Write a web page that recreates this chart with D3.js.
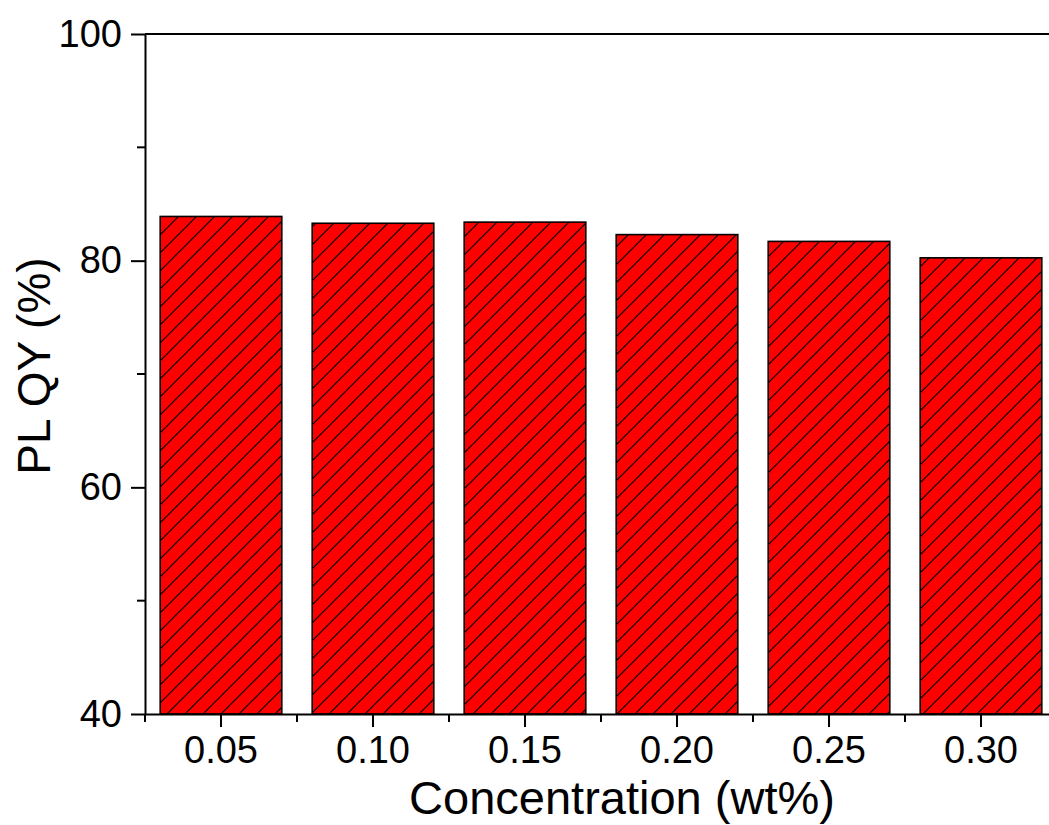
<!DOCTYPE html>
<html>
<head>
<meta charset="utf-8">
<script src="https://cdn.jsdelivr.net/npm/d3@7"></script>
<style>
  body { margin: 0; background: #fff; }
  svg { display: block; }
</style>
</head>
<body>
<script>
// Data
const CONC   = ['0.05', '0.10', '0.15', '0.20', '0.25', '0.30'];
const PLQY   = [83.9, 83.3, 83.4, 82.3, 81.7, 80.25];
const Y_TICKS = [40, 60, 80, 100];
const Y_MINOR = [50, 70, 90];

// Dimensions
const W = 1049, H = 825;
const margin = { top: 34, left: 145 };
const PLOT_W = 912;
const PLOT_H = 680;

const FONT = "'Liberation Sans', Arial, sans-serif";
const RED  = '#ff0000';
const FG   = '#000000';

// Scales
const x = d3.scaleBand()
  .domain(CONC)
  .range([0, PLOT_W])
  .paddingInner(0.2)
  .paddingOuter(0.1);

const y = d3.scaleLinear()
  .domain([40, 100])
  .range([PLOT_H, 0]);

// SVG
const svg = d3.select('body').append('svg')
  .attr('width', W)
  .attr('height', H);

svg.append('rect')
  .attr('width', W)
  .attr('height', H)
  .attr('fill', '#fff');

// hatch pattern
const hs = 18;
const defs = svg.append('defs');
const pat = defs.append('pattern')
  .attr('id', 'hatch')
  .attr('patternUnits', 'userSpaceOnUse')
  .attr('width', hs)
  .attr('height', hs);
pat.append('rect')
  .attr('width', hs)
  .attr('height', hs)
  .attr('fill', RED);
pat.append('path')
  .attr('d', `M-2,2 l4,-4 M0,${hs} l${hs},${-hs} M${hs - 2},${hs + 2} l4,-4`)
  .attr('stroke', FG)
  .attr('stroke-width', 1.2);

const g = svg.append('g')
  .attr('transform', `translate(${margin.left},${margin.top})`);

// Bars
g.selectAll('rect.bar')
  .data(CONC)
  .join('rect')
  .attr('class', 'bar')
  .attr('x', d => x(d))
  .attr('width', x.bandwidth())
  .attr('y', (d, i) => y(PLQY[i]))
  .attr('height', (d, i) => y(40) - y(PLQY[i]))
  .attr('fill', 'url(#hatch)')
  .attr('stroke', FG)
  .attr('stroke-width', 1.6);

// Frame (top + right)
g.append('path')
  .attr('d', `M0,0 H${PLOT_W} V${PLOT_H}`)
  .attr('fill', 'none')
  .attr('stroke', FG)
  .attr('stroke-width', 2);

// X axis
const xAxis = g.append('g')
  .attr('transform', `translate(0,${PLOT_H})`)
  .call(d3.axisBottom(x).tickSize(13).tickSizeOuter(0).tickPadding(9));

// minor ticks between categories
const edge = (d, i) => i < CONC.length
  ? x(d) + x.bandwidth() / 2 - x.step() / 2
  : x(CONC[i - 1]) + x.bandwidth() / 2 + x.step() / 2;

xAxis.selectAll('line.minor')
  .data(CONC.concat(['end']))
  .join('line')
  .attr('class', 'minor')
  .attr('x1', edge)
  .attr('x2', edge)
  .attr('y1', 0)
  .attr('y2', 8)
  .attr('stroke', FG)
  .attr('stroke-width', 2);

// Y axis
const yAxis = g.append('g')
  .call(d3.axisLeft(y).tickValues(Y_TICKS).tickSize(14).tickSizeOuter(0).tickPadding(9));

yAxis.selectAll('line.minor')
  .data(Y_MINOR)
  .join('line')
  .attr('class', 'minor')
  .attr('x1', 0)
  .attr('x2', -8)
  .attr('y1', d => y(d))
  .attr('y2', d => y(d))
  .attr('stroke', FG)
  .attr('stroke-width', 2);

[xAxis, yAxis].forEach(a => {
  a.select('.domain').attr('stroke', FG).attr('stroke-width', 2);
  a.selectAll('.tick line').attr('stroke', FG).attr('stroke-width', 2);
  a.selectAll('.tick text')
    .attr('fill', FG)
    .attr('font-family', FONT)
    .attr('font-size', '38px');
});

// Axis titles
svg.append('text')
  .attr('x', 622)
  .attr('y', 814)
  .attr('text-anchor', 'middle')
  .attr('font-family', FONT)
  .attr('font-size', '47px')
  .attr('fill', FG)
  .text('Concentration (wt%)');

svg.append('text')
  .attr('transform', `translate(50,${366}) rotate(-90)`)
  .attr('text-anchor', 'middle')
  .attr('font-family', FONT)
  .attr('font-size', '46px')
  .attr('fill', FG)
  .text('PL QY (%)');
</script>
</body>
</html>
